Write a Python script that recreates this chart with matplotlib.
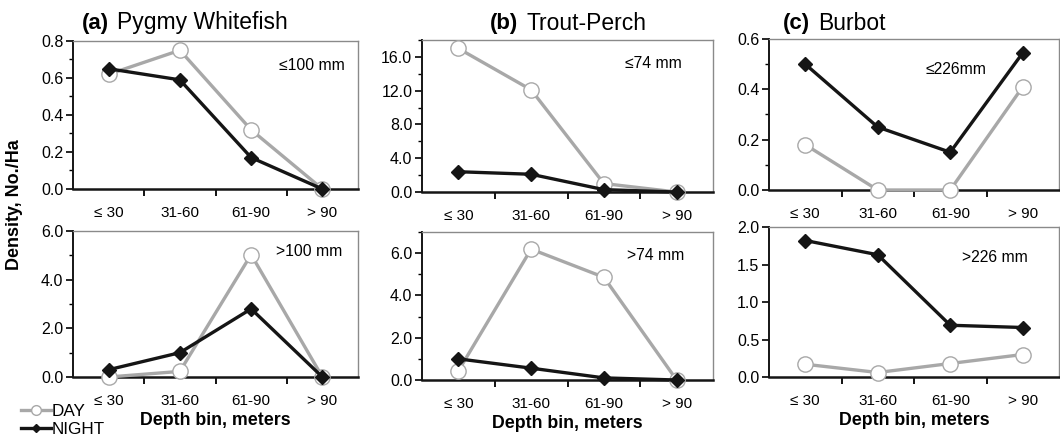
import matplotlib
matplotlib.use("Agg")
import matplotlib.pyplot as plt
from matplotlib.ticker import MultipleLocator, FormatStrFormatter
from matplotlib.lines import Line2D

plt.rcParams['font.family'] = ['Liberation Sans', 'DejaVu Sans']

categories = ["\u2264 30", "31-60", "61-90", "> 90"]

pw_small_day = [0.62, 0.75, 0.32, 0.0]
pw_small_night = [0.65, 0.59, 0.17, 0.0]
pw_large_day = [0.0, 0.23, 5.03, 0.0]
pw_large_night = [0.30, 1.0, 2.8, 0.0]

tp_small_day = [17.0, 12.1, 1.0, 0.0]
tp_small_night = [2.4, 2.1, 0.28, 0.0]
tp_large_day = [0.43, 6.19, 4.86, 0.0]
tp_large_night = [1.0, 0.56, 0.1, 0.0]

bb_small_day = [0.18, 0.0, 0.0, 0.41]
bb_small_night = [0.50, 0.25, 0.15, 0.545]
bb_large_day = [0.17, 0.06, 0.18, 0.30]
bb_large_night = [1.82, 1.63, 0.69, 0.66]

titles = [("(a)", "Pygmy Whitefish"), ("(b)", "Trout-Perch"), ("(c)", "Burbot")]
size_labels_top = ["\u2264100 mm", "\u226474 mm", "\u2264226mm"]
size_labels_bot = [">100 mm", ">74 mm", ">226 mm"]

W, H = 1060, 436
fig = plt.figure(figsize=(W / 100, H / 100), dpi=100)

def ax_px(l, r, t, b):
    return fig.add_axes([l / W, 1 - b / H, (r - l) / W, (b - t) / H])

cols = [(73, 358), (422, 713), (769, 1059)]
rows_top = [(41, 189), (40, 192), (39, 190)]
rows_bot = [(231, 377), (232, 380), (227, 377)]
ann_top = [(312, 65), (653, 63), (956, 70)]
ann_bot = [(309, 252), (656, 255), (995, 257)]

panels = [
    [(pw_small_day, pw_small_night, 0.8, 0.2, 0.1, "%.1f"),
     (pw_large_day, pw_large_night, 6.0, 2.0, 1.0, "%.1f")],
    [(tp_small_day, tp_small_night, 18.0, 4.0, 2.0, "%.1f"),
     (tp_large_day, tp_large_night, 7.0, 2.0, 1.0, "%.1f")],
    [(bb_small_day, bb_small_night, 0.6, 0.2, 0.1, "%.1f"),
     (bb_large_day, bb_large_night, 2.0, 0.5, None, "%.1f")],
]

gray = "#a8a8a8"
black = "#151515"
x = list(range(len(categories)))

for ci, (l, r) in enumerate(cols):
    for ri in range(2):
        t, b = (rows_top if ri == 0 else rows_bot)[ci]
        ax = ax_px(l, r, t, b)
        day, night, ymax, major, minor, fmt = panels[ci][ri]
        ax.plot(x, day, color=gray, lw=2.4, marker='o', ms=11,
                mfc='white', mec=gray, mew=1.0, zorder=3, clip_on=False)
        ax.plot(x, night, color=black, lw=2.4, marker='D', ms=7.5,
                mfc=black, mec=black, zorder=4, clip_on=False)
        ax.set_xlim(-0.5, 3.5)
        ax.set_ylim(0, ymax)
        ax.yaxis.set_major_locator(MultipleLocator(major))
        if minor:
            ax.yaxis.set_minor_locator(MultipleLocator(minor))
        ax.yaxis.set_major_formatter(FormatStrFormatter(fmt))
        ax.set_xticks([0.5, 1.5, 2.5])
        ax.set_xticklabels([])
        ax.set_xticks(x, minor=True)
        ax.set_xticklabels(categories, minor=True)
        ax.tick_params(axis='x', which='minor', length=0, pad=12, labelsize=11)
        ax.tick_params(axis='x', which='major', length=5, width=1.3, direction='out')
        ax.tick_params(axis='y', which='major', length=5, width=1.2, direction='out', labelsize=11.5, pad=2)
        ax.tick_params(axis='y', which='minor', length=3, width=1.0, direction='out')
        for s in ['top', 'right']:
            ax.spines[s].set_color('#8a8a8a')
            ax.spines[s].set_linewidth(1.0)
        ax.spines['left'].set_linewidth(1.4)
        ax.spines['bottom'].set_linewidth(1.8)
        ax.spines['left'].set_color(black)
        ax.spines['bottom'].set_color(black)
        lbl = size_labels_top[ci] if ri == 0 else size_labels_bot[ci]
        ap = ann_top[ci] if ri == 0 else ann_bot[ci]
        fig.text(ap[0] / W, 1 - ap[1] / H, lbl, ha='center', va='center', fontsize=11.3)
        if ri == 1:
            ax.set_xlabel("Depth bin, meters", fontsize=12.8, fontweight='bold', labelpad=3)
        if ri == 0:
            tx = {0: 82, 1: 490, 2: 783}[ci]
            tt = fig.text(tx / W, 1 - 23 / H, titles[ci][0], fontsize=16,
                          fontweight='bold', va='center', ha='left')
            fig.canvas.draw()
            bb = tt.get_window_extent()
            fig.text((bb.x1 + 8) / W, 1 - 23 / H, titles[ci][1], fontsize=16.5,
                     va='center', ha='left')

fig.text(15 / W, 1 - 205 / H, "Density, No./Ha", rotation=90, fontsize=13,
         fontweight='bold', ha='center', va='center')

handles = [Line2D([], [], color=gray, lw=2.4, marker='o', ms=7, mfc='white', mec=gray),
           Line2D([], [], color=black, lw=2.4, marker='D', ms=4.5, mfc=black, mec=black)]
fig.legend(handles, ["DAY", "NIGHT"], loc='upper left', bbox_to_anchor=(21 / W, 1 - 404 / H),
           frameon=False, fontsize=12.3, handlelength=1.75, handletextpad=0.05,
           labelspacing=0.2, borderaxespad=0, borderpad=0)

fig.savefig("out.png", dpi=100)
